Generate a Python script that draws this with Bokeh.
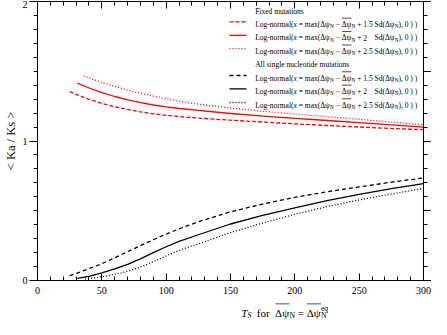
import math
from bokeh.plotting import figure
from bokeh.layouts import column
from bokeh.models import LinearAxis, FixedTicker, Label, Arrow
from bokeh.embed import file_html
from bokeh.resources import INLINE

# ---------------- data ----------------
# Fixed mutations (red)
ts_fix_15 = [25, 30, 40, 50, 60, 70, 80, 90, 100, 110, 125, 150, 175, 200, 225, 250, 275, 300]
ka_fix_15 = [1.354, 1.334, 1.299, 1.270, 1.246, 1.226, 1.209, 1.195, 1.184, 1.175, 1.164,
             1.149, 1.136, 1.123, 1.111, 1.100, 1.090, 1.081]
ts_fix_20 = [31, 40, 50, 60, 70, 80, 90, 100, 110, 125, 150, 175, 200, 225, 250, 275, 300]
ka_fix_20 = [1.415, 1.380, 1.347, 1.319, 1.295, 1.275, 1.258, 1.244, 1.233, 1.219,
             1.197, 1.178, 1.162, 1.147, 1.132, 1.116, 1.100]
ts_fix_25 = [36, 40, 50, 60, 70, 80, 90, 100, 110, 125, 150, 175, 200, 225, 250, 275, 300]
ka_fix_25 = [1.467, 1.452, 1.420, 1.391, 1.365, 1.342, 1.322, 1.303, 1.285, 1.264,
             1.236, 1.213, 1.193, 1.174, 1.156, 1.136, 1.116]
# All single nucleotide mutations (black)
ts_all_15 = [25, 30, 40, 50, 60, 70, 80, 90, 100, 110, 125, 150, 175, 200, 225, 250, 275, 300]
ka_all_15 = [0.035, 0.050, 0.085, 0.120, 0.163, 0.207, 0.250, 0.292, 0.333, 0.370, 0.421,
             0.492, 0.548, 0.596, 0.636, 0.671, 0.705, 0.735]
ts_all_20 = [31, 40, 50, 60, 70, 80, 90, 100, 110, 125, 150, 175, 200, 225, 250, 275, 300]
ka_all_20 = [0.015, 0.030, 0.055, 0.083, 0.115, 0.155, 0.200, 0.242, 0.280, 0.328,
             0.405, 0.467, 0.520, 0.572, 0.618, 0.658, 0.695]
ts_all_25 = [37, 45, 55, 65, 75, 85, 95, 105, 115, 125, 150, 175, 200, 225, 250, 275, 300]
ka_all_25 = [0.010, 0.020, 0.035, 0.054, 0.080, 0.115, 0.155, 0.197, 0.232, 0.262,
             0.343, 0.412, 0.474, 0.530, 0.578, 0.620, 0.660]

sd_factors = ["1.5", "2", "2.5"]
group_titles = ["Fixed mutations", "All single nucleotide mutations"]
x_ticks = [0, 50, 100, 150, 200, 250, 300]
x_minor = list(range(0, 301, 10))
y_ticks = [0, 1, 2]
y_ticks_right = [0, 0.5, 1, 1.5, 2]
y_minor = [i / 10 for i in range(0, 21)]
y_title = "< Ka / Ks >"

# ---------------- layout ----------------
FONT = "Liberation Serif"
W, H1, H2 = 431, 298, 21
MBL, MBR, MBT, MBB = 31, 8, 1, 18
FW, FH = W - MBL - MBR, H1 - MBT - MBB

p = figure(width=W, height=H1, x_range=(0, 300), y_range=(0, 2),
           output_backend="svg", toolbar_location=None,
           min_border_left=MBL, min_border_right=MBR,
           min_border_top=MBT, min_border_bottom=MBB)
p.xgrid.visible = False
p.ygrid.visible = False
p.outline_line_color = "black"
p.outline_line_width = 1

xa = p.xaxis[0]
xa.ticker = FixedTicker(ticks=x_ticks, minor_ticks=x_minor)
xa.major_tick_in = 7
xa.major_tick_out = 0
xa.minor_tick_in = 4
xa.minor_tick_out = 0
xa.major_label_standoff = 6
xa.major_label_text_font = FONT
xa.major_label_text_font_size = "10px"
xa.major_label_text_color = "black"
xa.axis_line_color = "black"

ya = p.yaxis[0]
ya.ticker = FixedTicker(ticks=y_ticks, minor_ticks=y_minor)
ya.major_tick_in = 0
ya.major_tick_out = 8
ya.minor_tick_in = 0
ya.minor_tick_out = 4
ya.major_label_standoff = 2
ya.major_label_text_font = FONT
ya.major_label_text_font_size = "10px"
ya.major_label_text_color = "black"
ya.axis_line_color = "black"
ya.axis_label = y_title
ya.axis_label_text_font = FONT
ya.axis_label_text_font_size = "12.5px"
ya.axis_label_text_font_style = "normal"
ya.axis_label_text_color = "black"
ya.axis_label_standoff = 2

top = LinearAxis(ticker=FixedTicker(ticks=x_ticks, minor_ticks=x_minor),
                 major_tick_in=7, major_tick_out=0, minor_tick_in=4, minor_tick_out=0,
                 major_label_text_font_size="1px", major_label_text_color=None,
                 major_label_standoff=0)
p.add_layout(top, "above")
right = LinearAxis(ticker=FixedTicker(ticks=y_ticks_right, minor_ticks=y_minor),
                   major_tick_in=0, major_tick_out=8, minor_tick_in=0, minor_tick_out=4,
                   major_label_text_font_size="1px", major_label_text_color=None,
                   major_label_standoff=0)
p.add_layout(right, "right")

# ---------------- curves ----------------
red_dash = ["4 2", "solid", "1 2"]
blk_dash = ["4 3", "solid", "1 2"]
red_series = [(ts_fix_15, ka_fix_15), (ts_fix_20, ka_fix_20), (ts_fix_25, ka_fix_25)]
blk_series = [(ts_all_15, ka_all_15), (ts_all_20, ka_all_20), (ts_all_25, ka_all_25)]
for (xs, ys), d in zip(red_series, red_dash):
    p.line(xs, ys, line_color="#ff0000", line_width=1.3, line_dash=d)
for (xs, ys), d in zip(blk_series, blk_dash):
    p.line(xs, ys, line_color="black", line_width=1.3, line_dash=d)

# ---------------- rich text helper ----------------
NB = "\u00a0"
TIMES = {' ': 250, NB: 250, '(': 333, ')': 333, ',': 250, '-': 333, '.': 250, '=': 564,
         '+': 564, '<': 564, '>': 564, '/': 278, '\u2212': 564, 'A': 722, 'F': 556,
         'K': 722, 'L': 611, 'N': 722, 'S': 556, 'T': 611, 'a': 444, 'c': 444, 'd': 500,
         'e': 444, 'f': 333, 'g': 500, 'i': 278, 'l': 278, 'm': 778, 'n': 500, 'o': 500,
         'q': 500, 'r': 333, 's': 389, 't': 278, 'u': 500, 'x': 500, '\u0394': 612,
         '\u03c8': 686}
ITAL = {'x': 444, 'T': 556, 'S': 500}


def text_w(s, size, italic=False):
    tot = 0
    for ch in s:
        if italic and ch in ITAL:
            tot += ITAL[ch]
        else:
            tot += TIMES.get(ch, 500)
    return tot / 1000.0 * size


def label(fig, x, y, txt, size, italic=False):
    fig.add_layout(Label(x=x, y=y, x_units="screen", y_units="screen",
                         text=txt.replace(" ", NB),
                         text_font=FONT, text_font_size=f"{size:.2f}px",
                         text_font_style="italic" if italic else "normal",
                         text_color="black", text_baseline="alphabetic", text_align="left"))


def hline(fig, x0, x1, y, color="black", width=0.7, dash="solid"):
    fig.add_layout(Arrow(x_start=x0, y_start=y, x_end=x1, y_end=y,
                         start_units="screen", end_units="screen", end=None,
                         line_color=color, line_width=width, line_dash=dash))


def rich(fig, pieces, x0, yb, size, sub_drop=0.24):
    x = x0
    sub_start = x0
    for piece in pieces:
        txt, st = piece[0], piece[1]
        adv = piece[2] if len(piece) > 2 else None
        italic = st in ("i", "subi")
        if st in ("sub", "subi"):
            fs = 0.7 * size
            dy = -sub_drop * size
        elif st == "sup":
            fs = 0.7 * size
            dy = 0.45 * size
        else:
            fs = size
            dy = 0.0
        xx = sub_start if st == "sup" else x
        label(fig, xx, yb + dy, txt, fs, italic)
        w = text_w(txt, fs, italic)
        if st == "ol":
            hline(fig, x + 0.03 * size, x + w, yb + 0.83 * size, width=0.7)
        if st == "sup":
            x = max(x, sub_start + w)
        else:
            if st in ("sub", "subi"):
                sub_start = x
            x += adv if adv is not None else w


# ---------------- legend ----------------
LS = 7.5
row_y = [16, 29.4, 42.8, 56.2, 69.6, 83.0, 96.4, 110.0]   # reference pixel rows
REF_TOP, REF_RIGHT = 9, 437


def fy(yref):
    return FH - (yref - REF_TOP)


def fx(xref):
    return FW - (REF_RIGHT - xref)


TX = fx(262.7)
rows = [("title", group_titles[0])]
rows += [("line", "#ff0000", d) for d in red_dash]
rows += [("title", group_titles[1])]
rows += [("line", "black", d) for d in blk_dash]

k = 0
for r, yr in zip(rows, row_y):
    yb = fy(yr) - 2.5
    if r[0] == "title":
        rich(p, [(r[1], "n")], TX, yb, LS)
    else:
        f = sd_factors[k % 3]
        k += 1
        hline(p, fx(237), fx(254), fy(yr), color=r[1], width=1.3, dash=r[2])
        pieces = [("Log-normal(", "n"), ("x", "i"), (" = max(\u0394\u03c8", "n"), ("N", "sub"),
                  (" \u2212 ", "n"), ("\u0394\u03c8", "ol"), ("N", "sub"), (" + ", "n"),
                  (f, "n", text_w("1.5", LS)), (" Sd(\u0394\u03c8", "n"), ("N", "sub"),
                  ("), 0 ) )", "n")]
        rich(p, pieces, TX, yb, LS)

# ---------------- x-axis title (own strip below the plot) ----------------
t = figure(width=W, height=H2, x_range=(0, 1), y_range=(0, 1),
           output_backend="svg", toolbar_location=None,
           x_axis_type=None, y_axis_type=None, min_border=0)
t.outline_line_color = None
t.xgrid.visible = False
t.ygrid.visible = False
TS = 11
xt_pieces = [("T", "i"), ("S", "subi"), ("  for  ", "n"), ("\u0394\u03c8", "ol"), ("N", "sub"),
             (" = ", "n"), ("\u0394\u03c8", "ol"), ("N", "sub"), ("eq", "sup")]
rich(t, xt_pieces, MBL + (210 - 31) / 406 * FW, 6.5, TS, sub_drop=0.2)

layout = column(p, t, spacing=0)
open("out.html", "w").write(file_html(layout, INLINE))
